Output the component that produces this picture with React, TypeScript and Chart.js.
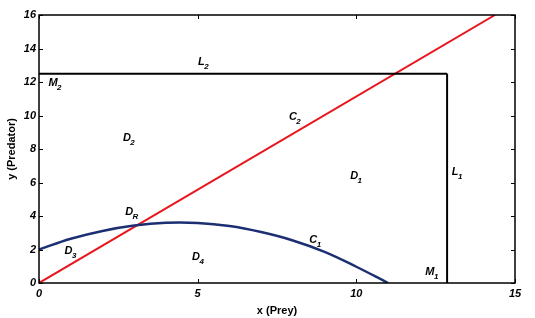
import React, { useEffect, useRef } from "react";
import { Chart, registerables } from "chart.js";

Chart.register(...registerables);

// Prey isocline C1
const c1X = [0, 1, 2, 3, 4, 5, 6, 7, 8, 9, 10, 11];
const c1Y = [2.0, 2.64, 3.11, 3.43, 3.59, 3.58, 3.4, 3.04, 2.54, 1.86, 0.97, 0.0];

// Predator isocline C2 (straight line)
const c2X = [0, 14.37];
const c2Y = [0, 16];

// Boundary lines L1, L2
const lX = 12.86;
const lY = 12.5;

const xTicksStep = 5;
const yTicksStep = 2;

// Region / curve labels: [main, subscript, x, y]
const labels: [string, string, number, number][] = [
  ["M", "2", 0.44, 11.95],
  ["L", "2", 5.12, 13.2],
  ["C", "2", 8.0, 9.9],
  ["D", "2", 2.77, 8.66],
  ["D", "1", 9.93, 6.39],
  ["L", "1", 13.11, 6.63],
  ["D", "R", 2.84, 4.27],
  ["D", "3", 0.93, 1.92],
  ["C", "1", 8.64, 2.57],
  ["D", "4", 4.95, 1.55],
  ["M", "1", 12.32, 0.66],
];

const FONT = "'Liberation Sans', Arial, sans-serif";

const boxPlugin = {
  id: "boxPlugin",
  afterDatasetsDraw(chart: any) {
    const { ctx, chartArea } = chart;
    const xs = chart.scales.x;
    const ys = chart.scales.y;
    const { left, right, top, bottom } = chartArea;
    ctx.save();
    // labels
    ctx.fillStyle = "#000";
    ctx.textBaseline = "middle";
    ctx.textAlign = "left";
    for (const [m, s, x, y] of labels) {
      const px = xs.getPixelForValue(x);
      const py = ys.getPixelForValue(y);
      ctx.font = `italic bold 11px ${FONT}`;
      const w = ctx.measureText(m).width;
      ctx.fillText(m, px - w / 2, py);
      ctx.font = `italic bold 8px ${FONT}`;
      ctx.fillText(s, px + w / 2 - 0.5, py + 5);
    }
    // box
    ctx.strokeStyle = "#000";
    ctx.lineWidth = 1.5;
    ctx.strokeRect(left, top, right - left, bottom - top);
    // inward ticks
    ctx.lineWidth = 1;
    const tl = 4;
    ctx.beginPath();
    for (const t of ys.ticks) {
      const py = Math.round(ys.getPixelForValue(t.value)) + 0.5;
      ctx.moveTo(left, py);
      ctx.lineTo(left + tl, py);
      ctx.moveTo(right, py);
      ctx.lineTo(right - tl, py);
    }
    for (const t of xs.ticks) {
      const px = Math.round(xs.getPixelForValue(t.value)) + 0.5;
      ctx.moveTo(px, bottom);
      ctx.lineTo(px, bottom - tl);
      ctx.moveTo(px, top);
      ctx.lineTo(px, top + tl);
    }
    ctx.stroke();
    ctx.restore();
  },
};

export default function App() {
  const ref = useRef<HTMLCanvasElement | null>(null);
  useEffect(() => {
    if (!ref.current) return;
    const tickFont = { family: FONT, size: 11, weight: "bold", style: "italic" } as any;
    const chart = new Chart(ref.current, {
      type: "scatter",
      data: {
        datasets: [
          {
            label: "L2",
            data: [{ x: 0, y: lY }, { x: lX, y: lY }],
            showLine: true,
            borderColor: "#000",
            borderWidth: 2,
            pointRadius: 0,
          },
          {
            label: "L1",
            data: [{ x: lX, y: 0 }, { x: lX, y: lY }],
            showLine: true,
            borderColor: "#000",
            borderWidth: 2,
            pointRadius: 0,
          },
          {
            label: "C1",
            data: c1X.map((x, i) => ({ x, y: c1Y[i] })),
            showLine: true,
            borderColor: "#1c2f72",
            borderWidth: 2.5,
            pointRadius: 0,
            tension: 0.4,
          },
          {
            label: "C2",
            data: c2X.map((x, i) => ({ x, y: c2Y[i] })),
            showLine: true,
            borderColor: "#e8161d",
            borderWidth: 2,
            pointRadius: 0,
          },
        ],
      },
      options: {
        responsive: false,
        animation: false,
        layout: { padding: { top: 15, right: 20, left: 0, bottom: 0 } },
        plugins: { legend: { display: false }, tooltip: { enabled: false } },
        scales: {
          x: {
            type: "linear",
            min: 0,
            max: 15,
            ticks: { stepSize: xTicksStep, font: tickFont, color: "#000", padding: 4, maxRotation: 0 },
            grid: { display: false, drawTicks: false },
            border: { display: false },
            title: {
              display: true,
              text: "x (Prey)",
              color: "#000",
              font: { family: FONT, size: 11, weight: "bold" },
              padding: { top: 4, bottom: 0 },
            },
            afterFit: (s: any) => {
              s.height = 35;
            },
          },
          y: {
            type: "linear",
            min: 0,
            max: 16,
            ticks: { stepSize: yTicksStep, font: tickFont, color: "#000", padding: 3 },
            grid: { display: false, drawTicks: false },
            border: { display: false },
            title: {
              display: true,
              text: "y (Predator)",
              color: "#000",
              font: { family: FONT, size: 11, weight: "bold" },
              padding: { top: 5, bottom: 0 },
            },
            afterFit: (s: any) => {
              s.width = 39;
            },
          },
        },
      } as any,
      plugins: [boxPlugin],
    });
    return () => chart.destroy();
  }, []);
  return (
    <div style={{ position: "fixed", left: 0, top: 0, width: 535, height: 318, background: "#fff" }}>
      <canvas ref={ref} width={535} height={318} />
    </div>
  );
}
